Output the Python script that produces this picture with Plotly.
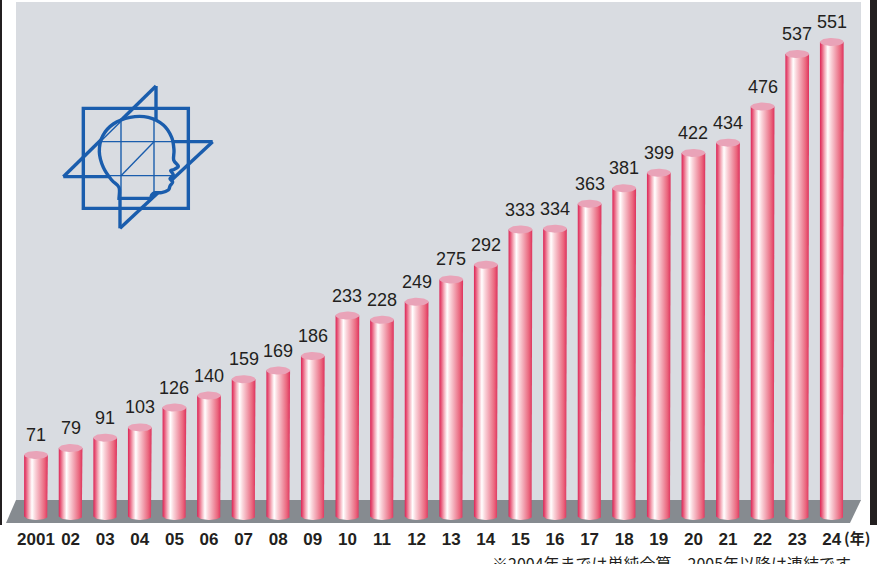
import numpy as np
import plotly.graph_objects as go

# ---------------- data ----------------
years = ["2001", "02", "03", "04", "05", "06", "07", "08", "09", "10", "11", "12",
         "13", "14", "15", "16", "17", "18", "19", "20", "21", "22", "23", "24"]
values = [71, 79, 91, 103, 126, 140, 159, 169, 186, 233, 228, 249,
          275, 292, 333, 334, 363, 381, 399, 422, 434, 476, 537, 551]
unit_label = "(年)"
footnote = "※2004年までは単純合算、2005年以降は連結です"

# ---------------- geometry / style ----------------
W, H = 877, 564
MB = 37                      # bottom margin (tick labels live here)
PH = H - MB                  # plot-area height in px
PX_PER_UNIT = 0.8603
X0 = -36 / 34.6
X1 = X0 + W / 34.6
Y0 = -11 / PX_PER_UNIT
Y1 = Y0 + PH / PX_PER_UNIT

RX = 0.3425                  # half bar width (x units)
RY = 4.0 / PX_PER_UNIT       # ellipse half height (y units)

body_scale = [[0.0, "#db2557"], [0.07, "#e65074"], [0.2, "#f4aebb"],
              [0.33, "#ffffff"], [0.46, "#fad5db"], [0.66, "#f19ead"],
              [0.86, "#ea667d"], [1.0, "#de325d"]]
top_color = "#e9a3b8"
blue = "#1a5dad"
panel = "#d9dce1"


def px(x):
    return x / W


def py(y):
    return (PH - y) / PH


fig = go.Figure()

t_bot = np.linspace(0, np.pi, 30)
t_full = np.linspace(0, 2 * np.pi, 60)
for i, v in enumerate(values):
    # cylinder body
    bx = [i - RX] + [i - RX, i + RX] + list(i + RX * np.cos(t_bot))
    by = [0] + [v, v] + list(0 - RY * np.sin(t_bot))
    fig.add_trace(go.Scatter(
        x=bx, y=by, mode="lines", fill="toself", line=dict(width=0),
        fillgradient=dict(type="horizontal", colorscale=body_scale),
        hoverinfo="skip", showlegend=False))
    # top ellipse
    fig.add_trace(go.Scatter(
        x=list(i + RX * np.cos(t_full)), y=list(v + RY * np.sin(t_full)),
        mode="lines", fill="toself", fillcolor=top_color, line=dict(width=0),
        hoverinfo="skip", showlegend=False))

annotations = []
for i, v in enumerate(values):
    annotations.append(dict(
        x=i, y=v, xref="x", yref="y", text=str(v), showarrow=False,
        yanchor="bottom", yshift=8,
        font=dict(family="Liberation Sans, Arial, sans-serif", size=18, color="#231f20")))

annotations.append(dict(
    x=px(842), y=py(537), xref="paper", yref="paper", text=unit_label,
    showarrow=False, xanchor="left", yanchor="middle",
    font=dict(family="Noto Sans CJK JP, sans-serif", size=15, color="#231f20", weight="bold")))
annotations.append(dict(
    x=px(490), y=py(549), xref="paper", yref="paper", text=footnote,
    showarrow=False, xanchor="left", yanchor="top",
    font=dict(family="Noto Sans CJK JP, sans-serif", size=16, color="#231f20")))

# ---------------- decorative shapes ----------------
shapes = []
# black frame bars
shapes.append(dict(type="rect", xref="paper", yref="paper", x0=0, x1=px(2),
                   y0=py(525), y1=py(0), fillcolor="#231f20", line=dict(width=0), layer="below"))
shapes.append(dict(type="rect", xref="paper", yref="paper", x0=px(870), x1=1,
                   y0=py(525), y1=py(0), fillcolor="#231f20", line=dict(width=0), layer="below"))
# grey back panel
shapes.append(dict(type="rect", xref="paper", yref="paper", x0=px(16), x1=px(861),
                   y0=py(501), y1=py(2), fillcolor=panel, line=dict(width=0), layer="below"))
# floor
floor = [(16, 500), (861, 500), (850, 523), (6, 523)]
path = "M " + " L ".join(f"{px(a):.5f},{py(b):.5f}" for a, b in floor) + " Z"
shapes.append(dict(type="path", xref="paper", yref="paper", path=path,
                   fillcolor="#868b90", line=dict(width=0), layer="below"))


# logo (zoom-space coordinates -> px)
def L(zx, zy):
    return 50 + zx / 3, 80 + zy / 3


def seg(p, q, w):
    (a, b), (c, d) = L(*p), L(*q)
    return dict(type="line", xref="paper", yref="paper", x0=px(a), y0=py(b),
                x1=px(c), y1=py(d), line=dict(color=blue, width=w), layer="above")


def polypath(pts, closed=True):
    s = "M " + " L ".join(f"{px(L(*p)[0]):.5f},{py(L(*p)[1]):.5f}" for p in pts)
    return s + (" Z" if closed else "")


# square
shapes.append(dict(type="path", xref="paper", yref="paper",
                   path=polypath([(100, 85), (415, 85), (415, 385), (100, 385)]),
                   line=dict(color=blue, width=3.4), layer="above"))
# pinwheel
for p, q in [((40, 290), (318, 18)), ((318, 18), (318, 185)), ((488, 185), (312, 185)),
             ((488, 185), (210, 445)), ((210, 445), (210, 290)), ((40, 290), (213, 290))]:
    shapes.append(seg(p, q, 3.4))

# head outline (catmull-rom spline)
head = [(207, 355), (207, 322), (185, 300), (160, 262), (148, 215), (158, 168),
        (190, 132), (240, 112), (295, 112), (340, 135), (365, 172), (372, 210),
        (371, 240), (385, 258), (373, 268), (362, 272), (370, 284), (360, 296),
        (368, 306), (360, 318), (355, 330), (335, 338), (315, 338), (305, 345),
        (303, 355)]
P = [L(*p) for p in head]
P_ext = [P[0]] + P + [P[-1]]
d = f"M {px(P[0][0]):.5f},{py(P[0][1]):.5f}"
for k in range(1, len(P_ext) - 2):
    p0, p1, p2, p3 = P_ext[k - 1], P_ext[k], P_ext[k + 1], P_ext[k + 2]
    c1 = (p1[0] + (p2[0] - p0[0]) / 6, p1[1] + (p2[1] - p0[1]) / 6)
    c2 = (p2[0] - (p3[0] - p1[0]) / 6, p2[1] - (p3[1] - p1[1]) / 6)
    d += (f" C {px(c1[0]):.5f},{py(c1[1]):.5f} {px(c2[0]):.5f},{py(c2[1]):.5f}"
          f" {px(p2[0]):.5f},{py(p2[1]):.5f}")
d += " Z"
shapes.append(dict(type="path", xref="paper", yref="paper", path=d,
                   fillcolor=panel, line=dict(width=0), layer="above"))
# thin inner grid
for p, q in [((312, 113), (312, 338)), ((213, 125), (213, 355)), ((152, 185), (368, 185)),
             ((172, 287), (364, 287)), ((213, 287), (312, 185)), ((153, 183), (226, 111))]:
    shapes.append(seg(p, q, 1.4))
shapes.append(dict(type="path", xref="paper", yref="paper", path=d,
                   line=dict(color=blue, width=3.4), layer="above"))

fig.update_layout(
    width=W, height=H,
    margin=dict(l=0, r=0, t=0, b=MB),
    paper_bgcolor="white", plot_bgcolor="rgba(0,0,0,0)",
    showlegend=False, hovermode=False,
    xaxis=dict(range=[X0, X1], tickvals=list(range(len(years))), ticktext=years,
               showgrid=False, zeroline=False, showline=False, ticks="",
               tickfont=dict(family="Liberation Sans, Arial, sans-serif", size=17,
                             color="#231f20", weight="bold"),
               fixedrange=True),
    yaxis=dict(range=[Y0, Y1], visible=False, fixedrange=True),
    shapes=shapes, annotations=annotations,
)

fig.write_html("out.html")
